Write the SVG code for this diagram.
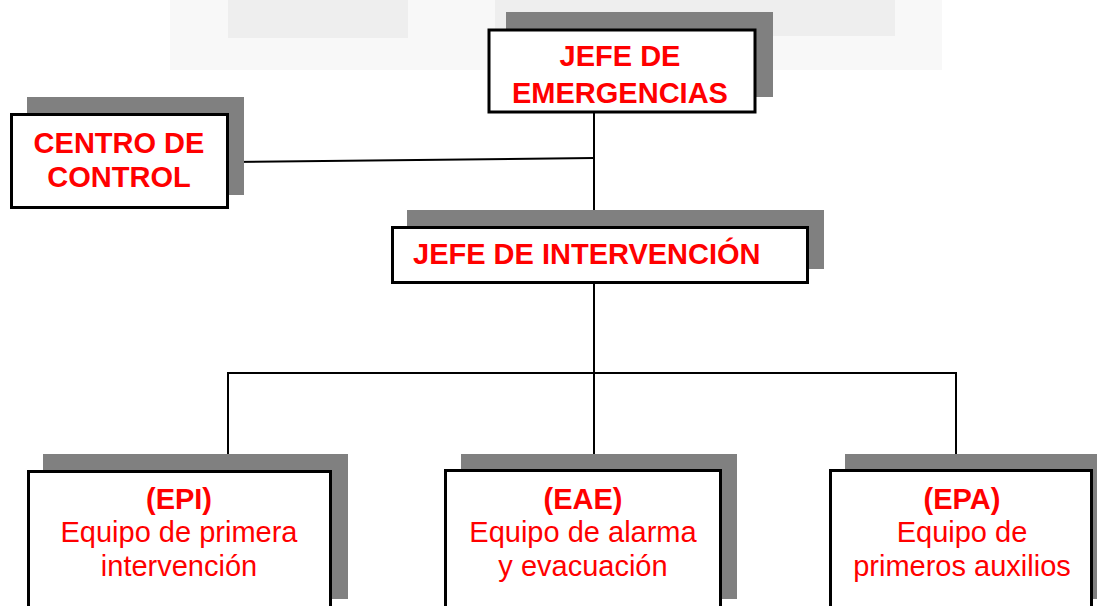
<svg xmlns="http://www.w3.org/2000/svg" width="1097" height="606" viewBox="0 0 1097 606">
<style>
.shadow{fill:#808080;stroke:none}
.box{fill:#ffffff;stroke:#000000;stroke-width:3}
.conn{stroke:#000000;stroke-width:2;fill:none}
.b{font-family:"Liberation Sans",Arial,sans-serif;font-weight:bold;font-size:29px;fill:#ff0000;text-anchor:middle}
.r{font-family:"Liberation Sans",Arial,sans-serif;font-size:29px;fill:#ff0000;text-anchor:middle}
.wm{fill:#eeeeee}
</style>
<rect width="1097" height="606" fill="#ffffff"/>
<g id="watermark">
<rect x="170" y="0" width="772" height="70" fill="#f8f8f8"/>
<rect class="wm" x="228" y="0" width="180" height="38"/>
<rect class="wm" x="495" y="0" width="400" height="36"/>
</g>
<g id="connectors">
<line class="conn" x1="229" y1="162" x2="594" y2="158"/>
<line class="conn" x1="594" y1="113" x2="594" y2="227"/>
<line class="conn" x1="594" y1="284" x2="594" y2="470"/>
<polyline class="conn" points="228,470 228,373 956,373 956,470"/>
</g>
<g id="jefe-emergencias">
<rect class="shadow" x="506" y="12" width="267" height="85"/>
<rect class="box" x="489" y="30" width="266" height="82"/>
<text class="b" x="620" y="66">JEFE DE</text>
<text class="b" x="620" y="103">EMERGENCIAS</text>
</g>
<g id="centro-control">
<rect class="shadow" x="27" y="97" width="217" height="98"/>
<rect class="box" x="11.5" y="114.5" width="216" height="93"/>
<text class="b" x="119" y="153" font-size="30">CENTRO DE</text>
<text class="b" x="119" y="187" font-size="30">CONTROL</text>
</g>
<g id="jefe-intervencion">
<rect class="shadow" x="407" y="210" width="417" height="59"/>
<rect class="box" x="392.5" y="227.5" width="415" height="55"/>
<text class="b" x="413" y="264" font-size="30" style="text-anchor:start">JEFE DE INTERVENCIÓN</text>
</g>
<g id="epi">
<rect class="shadow" x="43" y="454" width="305" height="145"/>
<rect class="box" x="28.5" y="471.5" width="302" height="150"/>
<text class="b" x="179" y="509">(EPI)</text>
<text class="r" x="179" y="542">Equipo de primera</text>
<text class="r" x="179" y="576">intervención</text>
</g>
<g id="eae">
<rect class="shadow" x="461" y="454" width="276" height="145"/>
<rect class="box" x="445.5" y="470.5" width="275" height="150"/>
<text class="b" x="583" y="509">(EAE)</text>
<text class="r" x="583" y="542">Equipo de alarma</text>
<text class="r" x="583" y="576">y evacuación</text>
</g>
<g id="epa">
<rect class="shadow" x="845" y="454" width="260" height="145"/>
<rect class="box" x="830.5" y="470.5" width="261" height="150"/>
<text class="b" x="962" y="509">(EPA)</text>
<text class="r" x="962" y="542">Equipo de</text>
<text class="r" x="962" y="576">primeros auxilios</text>
</g>
</svg>
